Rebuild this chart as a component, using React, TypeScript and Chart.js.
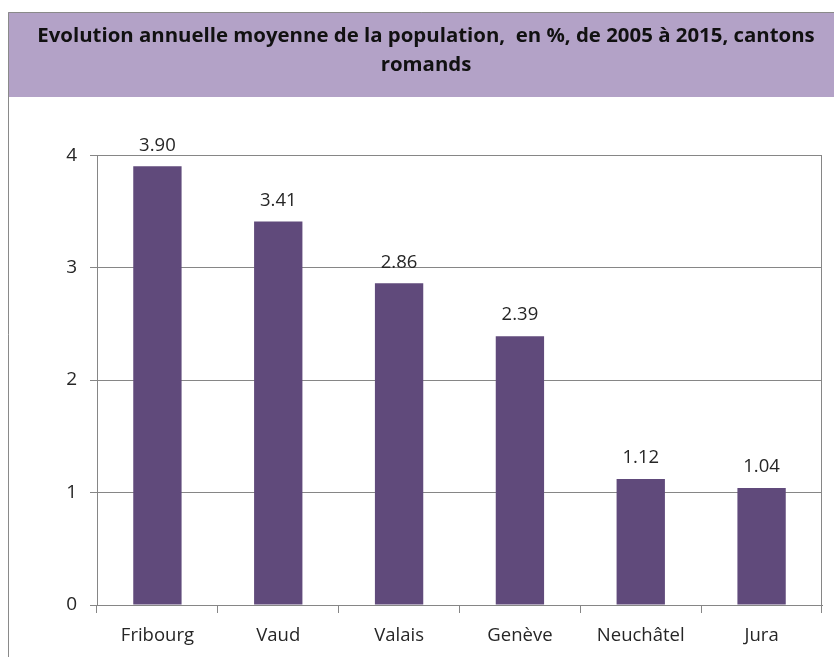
import React, { useEffect, useRef } from "react";
import { Chart, registerables } from "chart.js";

Chart.register(...registerables);

const categories = ["Fribourg", "Vaud", "Valais", "Genève", "Neuchâtel", "Jura"];
const values = [3.9, 3.41, 2.86, 2.39, 1.12, 1.04];
const yTicks = [0, 1, 2, 3, 4];
const titleLines = [
  "Evolution annuelle moyenne de la population,  en %, de 2005 à 2015, cantons",
  "romands",
];

const FONT = "'Open Sans', sans-serif";
const GRID = "#868686";

const framePlugin = {
  id: "frame",
  beforeDraw(chart: any) {
    const ctx = chart.ctx;
    ctx.save();
    ctx.fillStyle = "#ffffff";
    ctx.fillRect(0, 0, chart.width, chart.height);
    ctx.fillStyle = "#b3a2c7";
    ctx.fillRect(8, 12, chart.width - 8, 85);
    ctx.strokeStyle = "#8a8a8a";
    ctx.lineWidth = 1;
    ctx.beginPath();
    ctx.moveTo(8.5, chart.height);
    ctx.lineTo(8.5, 12.5);
    ctx.lineTo(chart.width, 12.5);
    ctx.stroke();
    ctx.restore();
  },
  afterDraw(chart: any) {
    const ctx = chart.ctx;
    const a = chart.chartArea;
    ctx.save();
    ctx.strokeStyle = GRID;
    ctx.lineWidth = 1;
    ctx.beginPath();
    const x = Math.round(a.right) - 0.5;
    ctx.moveTo(x, a.top);
    ctx.lineTo(x, a.bottom);
    ctx.stroke();
    ctx.restore();
  },
};

const labelPlugin = {
  id: "barLabels",
  afterDatasetsDraw(chart: any) {
    const ctx = chart.ctx;
    const meta = chart.getDatasetMeta(0);
    ctx.save();
    ctx.font = `18.5px ${FONT}`;
    ctx.fillStyle = "#262626";
    ctx.textAlign = "center";
    ctx.textBaseline = "middle";
    meta.data.forEach((el: any, i: number) => {
      ctx.fillText(values[i].toFixed(2), el.x, el.y - 21);
    });
    ctx.restore();
  },
};

export default function App() {
  const ref = useRef<HTMLCanvasElement>(null);
  useEffect(() => {
    if (!ref.current) return;
    const chart = new Chart(ref.current, {
      type: "bar",
      data: {
        labels: categories,
        datasets: [
          {
            data: values,
            backgroundColor: "#604a7b",
            borderWidth: 0,
            categoryPercentage: 0.8,
            barPercentage: 0.5,
          },
        ],
      },
      options: {
        responsive: false,
        animation: false,
        layout: { padding: { top: 0, right: 0, left: 18, bottom: 0 } },
        plugins: {
          legend: { display: false },
          tooltip: { enabled: false },
          title: {
            display: true,
            text: titleLines,
            color: "#111111",
            font: { family: FONT, size: 20.4, weight: "bold", lineHeight: 1.4 },
            padding: { top: 22, bottom: 76 },
          },
        },
        scales: {
          x: {
            offset: true,
            grid: {
              offset: true,
              drawOnChartArea: false,
              drawTicks: true,
              tickLength: 8,
              color: GRID,
            },
            border: { display: true, color: GRID },
            ticks: {
              color: "#262626",
              padding: 12,
              font: { family: FONT, size: 18.5 },
            },
            afterFit(s: any) {
              s.height = 52;
            },
          },
          y: {
            min: 0,
            max: 4,
            afterBuildTicks(s: any) {
              s.ticks = yTicks.map((v) => ({ value: v }));
            },
            grid: {
              color: GRID,
              drawTicks: true,
              tickLength: 7,
            },
            border: { display: true, color: GRID },
            ticks: {
              color: "#262626",
              padding: 13,
              font: { family: FONT, size: 19 },
            },
            afterFit(s: any) {
              s.width = 79;
            },
          },
          yRight: {
            position: "right",
            min: 0,
            max: 4,
            grid: { display: false },
            border: { display: false },
            ticks: { display: false },
            afterFit(s: any) {
              s.width = 12;
            },
          },
        },
      },
      plugins: [framePlugin, labelPlugin],
    });
    return () => chart.destroy();
  }, []);
  return (
    <div style={{ position: "absolute", left: 0, top: 0, width: 834, height: 657 }}>
      <canvas ref={ref} width={834} height={657} />
    </div>
  );
}
